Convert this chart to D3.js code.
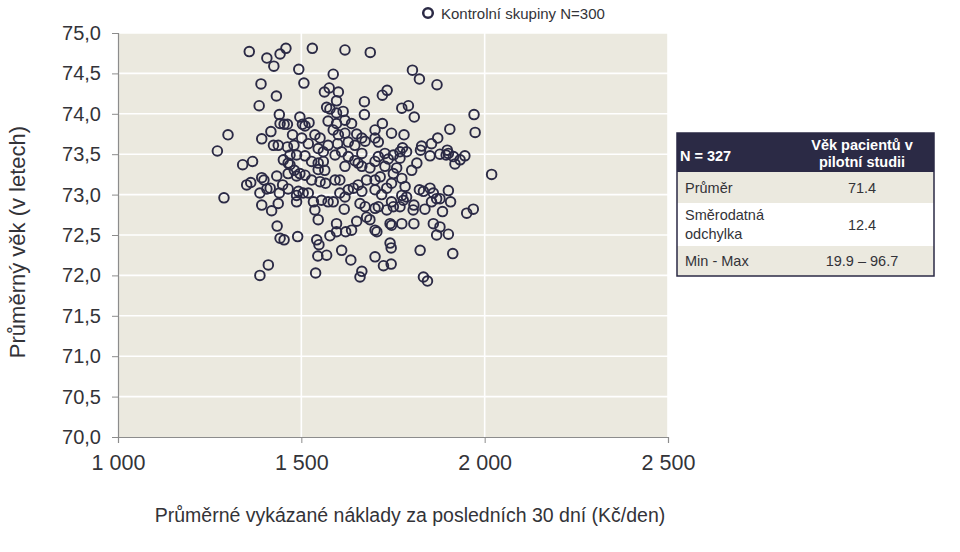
<!DOCTYPE html>
<html><head><meta charset="utf-8">
<script src="https://cdn.jsdelivr.net/npm/d3@7"></script>
<style>
html,body{margin:0;padding:0;background:#fff;}
svg{display:block;font-family:"Liberation Sans",Arial,sans-serif;}
</style></head>
<body><svg id="c" width="960" height="552"></svg>
<script>
const xTicks = [1000, 1500, 2000, 2500];
const yTicks = [70, 70.5, 71, 71.5, 72, 72.5, 73, 73.5, 74, 74.5, 75];
const seriesName = "Kontrolní skupiny N=300";
const costs = [1358,1406,1442,1458,1425,1493,1390,1432,1385,1440,1442,1453,1462,1300,1417,1476,1392,1424,1437,1462,1480,1271,1469,1487,1340,1367,1451,1464,
1530,1619,1688,1507,1587,1576,1563,1601,1596,1672,1721,1734,1569,1578,1596,1614,1672,1496,1503,1510,1521,1573,1596,1619,1637,1721,1746,1701,1537,1551,1587,1601,1619,1651,1665,1674,1501,1519,1573,1599,1628,1646,1701,1710,1546,1560,1510,1592,1610,1628,1665,1710,1728,1737,1528,1546,1646,1655,1701,
1803,1822,1870,1774,1792,1808,1971,1974,1905,1780,1872,1855,1828,1825,1776,1769,1787,1898,1901,1751,1769,1851,1878,1895,1915,1946,1815,
1351,1362,1392,1398,1433,1406,1415,1387,1449,1440,1464,1289,1392,1437,1419,1487,1487,1434,1442,1453,1490,1410,1387,1469,1481,1487,1464,
1496,1510,1492,1505,1519,1546,1564,1560,1528,1551,1566,1533,1555,1573,1537,1546,1542,1548,1545,1569,1539,1578,1596,1596,1617,1610,1635,1621,1637,1651,1660,1674,1678,1687,1701,1710,1733,1701,1706,1742,1746,1742,1745,1701,1724,1745,1665,1660,1592,1605,1619,1628,1642,1655,1665,1605,1619,1587,1678,1701,1715,1687,1728,1701,1719,1746,1746,1665,1733,
2019,1901,1907,1885,1951,1969,1822,1833,1851,1869,1860,1855,1878,1837,1807,1805,1774,1783,1774,1778,1787,1751,1760,1801,1919,1933,1751,1769,1774,1807,1860,1878,1869,1901,1824,1913,1833,1844];
const ages = [74.77,74.69,74.74,74.81,74.59,74.55,74.37,74.22,74.10,73.99,73.88,73.87,73.87,73.74,73.78,73.74,73.69,73.61,73.61,73.59,73.61,73.54,73.49,73.49,73.37,73.41,73.43,73.39,
74.81,74.79,74.76,74.38,74.49,74.32,74.27,74.27,74.16,74.15,74.23,74.29,74.08,74.06,74.01,74.03,73.99,73.96,73.87,73.85,73.89,73.91,73.88,73.92,73.88,73.88,73.76,73.80,73.74,73.70,73.80,73.74,73.76,73.75,73.70,73.66,73.70,73.63,73.61,73.63,73.65,73.61,73.70,73.65,73.57,73.53,73.48,73.49,73.53,73.47,73.51,73.47,73.51,73.44,73.41,73.39,73.42,73.39,73.41,
74.54,74.43,74.36,74.07,74.10,73.96,73.99,73.77,73.81,73.74,73.70,73.63,73.60,73.55,73.58,73.53,73.53,73.55,73.51,73.49,73.45,73.48,73.50,73.49,73.47,73.48,73.39,
73.12,73.15,73.21,73.18,73.23,73.07,73.08,73.02,73.12,73.02,73.07,72.96,72.87,72.89,72.80,72.99,72.91,72.61,72.46,72.44,72.48,72.13,72.00,73.37,73.30,73.23,73.26,
73.26,73.24,73.04,73.02,73.02,73.31,73.30,73.41,73.18,73.16,73.14,72.91,72.93,72.91,72.81,72.69,72.44,72.38,72.24,72.25,72.03,72.49,72.54,72.64,72.82,72.31,72.19,72.54,72.56,72.67,72.89,72.85,72.72,72.69,72.83,72.85,72.81,72.56,72.54,72.64,72.62,72.40,72.34,72.23,72.12,72.14,72.05,71.98,73.18,73.18,73.35,73.06,73.08,73.12,73.04,73.02,72.97,72.91,73.18,73.18,73.22,73.33,73.35,73.06,73.00,73.14,72.91,73.35,73.08,
73.25,73.05,72.91,72.79,72.77,72.82,73.06,73.04,73.08,72.95,73.02,72.91,72.95,72.82,72.87,72.81,72.99,73.10,73.20,72.93,72.97,73.26,73.33,73.30,73.38,73.43,72.85,72.85,72.64,72.64,72.64,72.60,72.50,72.51,72.31,72.27,71.98,71.93];
const tableHeader = ["N = 327", ["Věk pacientů v", "pilotní studii"]];
const tableRows = [
  [["Průměr"], "71.4"],
  [["Směrodatná", "odchylka"], "12.4"],
  [["Min - Max"], "19.9 – 96.7"]
];
const xTitle = "Průměrné vykázané náklady za posledních 30 dní (Kč/den)";
const yTitle = "Průměrný věk (v letech)";

const svg = d3.select("#c");
const L = 118, R = 668, T = 33, B = 437;
const x = d3.scaleLinear().domain([1000, 2500]).range([L, R]);
const y = d3.scaleLinear().domain([70, 75]).range([B, T]);
const loc = d3.formatLocale({decimal: ",", thousands: " ", grouping: [3], currency: ["", ""]});
const fx = loc.format(",d"), fy = loc.format(".1f");
const ink = "#2b2a45", txt = "#333338";

svg.append("rect").attr("x", L).attr("y", T).attr("width", R - L).attr("height", B - T).attr("fill", "#ebe9df");
svg.append("g").selectAll("line").data(yTicks.filter(d => d > 70)).join("line")
  .attr("x1", L).attr("x2", R).attr("y1", d => y(d)).attr("y2", d => y(d))
  .attr("stroke", "#fff").attr("stroke-width", 1.6);
svg.append("g").selectAll("line").data(xTicks.filter(d => d > 1000)).join("line")
  .attr("y1", T).attr("y2", B).attr("x1", d => x(d)).attr("x2", d => x(d))
  .attr("stroke", "#fff").attr("stroke-width", 1.6);

const ya = svg.append("g").attr("transform", `translate(${L},0)`)
  .call(d3.axisLeft(y).tickValues(yTicks).tickFormat(fy).tickSize(6).tickPadding(11));
const xa = svg.append("g").attr("transform", `translate(0,${B})`)
  .call(d3.axisBottom(x).tickValues(xTicks).tickFormat(fx).tickSize(6).tickPadding(12));
[ya, xa].forEach(a => {
  a.select(".domain").attr("stroke", "#8c8c8c").attr("stroke-width", 1.2);
  a.selectAll(".tick line").attr("stroke", "#8c8c8c");
  a.selectAll(".tick text").attr("fill", txt).attr("font-size", 20)
   .attr("font-family", "'Liberation Sans',Arial,sans-serif");
});
xa.selectAll(".tick text").attr("font-size", 21.5);

svg.append("g").selectAll("circle").data(costs.map((c, i) => [c, ages[i]])).join("circle")
  .attr("cx", d => x(d[0])).attr("cy", d => y(d[1])).attr("r", 4.8)
  .attr("fill", "none").attr("stroke", ink).attr("stroke-width", 1.9);

svg.append("text").attr("x", 410).attr("y", 522).attr("text-anchor", "middle")
  .attr("font-size", 19.5).attr("fill", txt).text(xTitle);
svg.append("text").attr("transform", "translate(25,242) rotate(-90)").attr("text-anchor", "middle")
  .attr("font-size", 22).attr("fill", txt).text(yTitle);

// legend
svg.append("circle").attr("cx", 428).attr("cy", 13).attr("r", 4.8).attr("fill", "none").attr("stroke", ink).attr("stroke-width", 2.5);
svg.append("text").attr("x", 441).attr("y", 18.5).attr("font-size", 15).attr("fill", txt).text(seriesName);

// table
const tx = 677, tw = 257, cx2 = 862;
const rowY = [172, 203, 246, 276];
const tb = svg.append("g");
tb.append("rect").attr("x", tx).attr("y", 133).attr("width", tw).attr("height", 39).attr("fill", ink);
tb.append("text").attr("x", 680).attr("y", 161).attr("font-size", 14.5).attr("font-weight", "bold").attr("fill", "#fff").text(tableHeader[0]);
tableHeader[1].forEach((t, i) => tb.append("text").attr("x", cx2).attr("y", 150 + i * 17).attr("text-anchor", "middle")
  .attr("font-size", 14.5).attr("font-weight", "bold").attr("fill", "#fff").text(t));
tableRows.forEach((r, i) => {
  const y0 = rowY[i], y1 = rowY[i + 1], mid = (y0 + y1) / 2;
  tb.append("rect").attr("x", tx).attr("y", y0).attr("width", tw).attr("height", y1 - y0).attr("fill", i % 2 ? "#fff" : "#ebe9df");
  r[0].forEach((t, j) => tb.append("text").attr("x", 685).attr("y", mid + 5 + (j - (r[0].length - 1) / 2) * 19)
    .attr("font-size", 14.5).attr("fill", txt).text(t));
  tb.append("text").attr("x", cx2).attr("y", mid + 5).attr("text-anchor", "middle").attr("font-size", 14.5).attr("fill", txt).text(r[1]);
});
tb.append("rect").attr("x", tx).attr("y", 133).attr("width", tw).attr("height", 143).attr("fill", "none").attr("stroke", ink).attr("stroke-width", 1.5);
</script>
</body></html>
